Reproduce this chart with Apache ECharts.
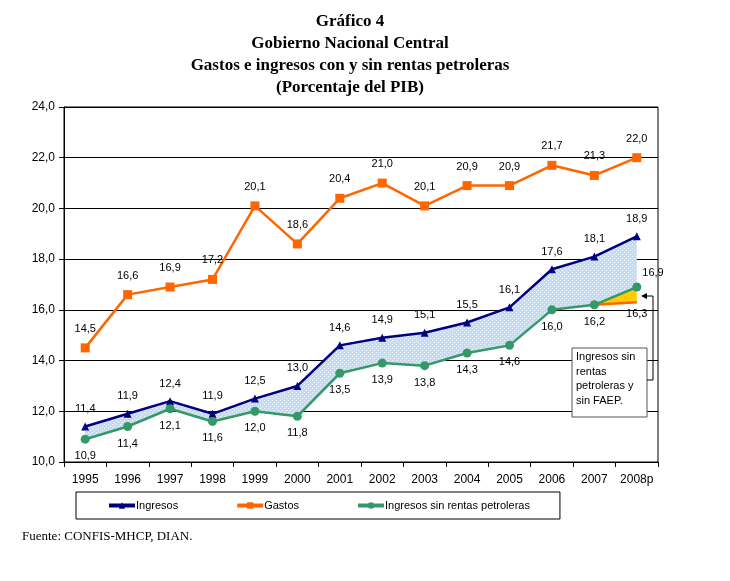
<!DOCTYPE html>
<html>
<head>
<meta charset="utf-8">
<script src="https://cdn.jsdelivr.net/npm/echarts@6/dist/echarts.min.js"></script>
<style>
  html, body { margin: 0; padding: 0; background: #fff; }
  #chart { width: 730px; height: 581px; }
</style>
</head>
<body>
<div id="chart"></div>
<script>
// datos (porcentaje del PIB)
var years = ['1995','1996','1997','1998','1999','2000','2001','2002','2003','2004','2005','2006','2007','2008p'];
var ingresos = [11.4, 11.9, 12.4, 11.9, 12.5, 13.0, 14.6, 14.9, 15.1, 15.5, 16.1, 17.6, 18.1, 18.9];
var gastos = [14.5, 16.6, 16.9, 17.2, 20.1, 18.6, 20.4, 21.0, 20.1, 20.9, 20.9, 21.7, 21.3, 22.0];
var sinRentas = [10.9, 11.4, 12.1, 11.6, 12.0, 11.8, 13.5, 13.9, 13.8, 14.3, 14.6, 16.0, 16.2, 16.9];
var sinFaep = [null, null, null, null, null, null, null, null, null, null, null, null, 16.2, 16.3];
var yTicks = [10, 24, 2]; // min, max, intervalo

var coma = function (v) { return Number(v).toFixed(1).replace('.', ','); };

// banda entre ingresos y sin rentas
var bandaDif = ingresos.map(function (v, i) { return +(v - sinRentas[i]).toFixed(2); });
var faepDif = sinFaep.map(function (v, i) { return v == null ? null : +(sinRentas[i] - v).toFixed(2); });

// patron punteado azul claro
var pat = document.createElement('canvas');
pat.width = 4; pat.height = 4;
var pc = pat.getContext('2d');
pc.fillStyle = '#c2dbf7';
pc.fillRect(0, 0, 4, 4);
pc.fillStyle = '#f2f7fd';
pc.fillRect(0, 0, 1, 1);
pc.fillRect(2, 2, 1, 1);

var fontSans = 'Liberation Sans';
var lbl = { show: true, fontFamily: fontSans, fontSize: 11, color: '#000', formatter: function (p) { return coma(p.value); } };

var dom = document.getElementById('chart');
var myChart = echarts.init(dom);

var option = {
    backgroundColor: '#fff',
    animation: false,
    title: {
        text: 'Gráfico 4\nGobierno Nacional Central\nGastos e ingresos con y sin rentas petroleras\n(Porcentaje del PIB)',
        left: 345,
        textAlign: 'center',
        top: 6,
        textStyle: { fontFamily: 'Liberation Serif', fontWeight: 'bold', fontSize: 17, lineHeight: 22, color: '#000' }
    },
    legend: {
        data: ['Ingresos', 'Gastos', 'Ingresos sin rentas petroleras'],
        left: 76,
        top: 492,
        padding: [8, 30, 8, 31],
        itemGap: 57,
        itemWidth: 26,
        itemHeight: 8,
        lineStyle: { width: 4 },
        borderColor: '#000',
        borderWidth: 1,
        textStyle: { fontFamily: fontSans, fontSize: 11, color: '#000', padding: [0, 0, 0, -4] }
    },
    grid: {
        left: 64, right: 72, top: 107, bottom: 119,
        show: true, borderColor: '#000', borderWidth: 1
    },
    xAxis: {
        type: 'category',
        data: years,
        boundaryGap: true,
        axisLine: { lineStyle: { color: '#000', width: 1 } },
        axisTick: { show: true, interval: 0, length: 5, lineStyle: { color: '#000' } },
        axisLabel: { interval: 0, fontFamily: fontSans, fontSize: 12, color: '#000', margin: 12 }
    },
    yAxis: {
        type: 'value',
        min: yTicks[0], max: yTicks[1], interval: yTicks[2],
        axisLine: { show: true, lineStyle: { color: '#000', width: 1 } },
        axisTick: { show: true, length: 5, lineStyle: { color: '#000' } },
        axisLabel: { fontFamily: fontSans, fontSize: 12, color: '#000', margin: 9, formatter: function (v) { return coma(v); } },
        splitLine: { lineStyle: { color: '#000', width: 1 } }
    },
    series: [
        {
            name: 'base', type: 'line', stack: 'banda', data: sinRentas,
            symbol: 'none', lineStyle: { width: 0, opacity: 0 }, silent: true, z: 1
        },
        {
            name: 'banda', type: 'line', stack: 'banda', data: bandaDif,
            symbol: 'none', lineStyle: { width: 0, opacity: 0 },
            areaStyle: { color: { image: pat, repeat: 'repeat' }, opacity: 1 }, silent: true, z: 1
        },
        {
            name: 'faepBase', type: 'line', stack: 'faep', data: sinFaep,
            symbol: 'none', lineStyle: { width: 0, opacity: 0 }, silent: true, z: 1
        },
        {
            name: 'faepBanda', type: 'line', stack: 'faep', data: faepDif,
            symbol: 'none', lineStyle: { width: 0, opacity: 0 },
            areaStyle: { color: '#ffcc00', opacity: 1 }, silent: true, z: 1
        },
        {
            name: 'Ingresos sin rentas petroleras y sin FAEP', type: 'line',
            data: sinFaep.map(function (v, i) {
                if (i === sinFaep.length - 1) {
                    return { value: v, label: Object.assign({}, lbl, { position: 'bottom', distance: 6, offset: [-6, 0] }) };
                }
                return v;
            }),
            symbol: 'circle', symbolSize: 1, showSymbol: true,
            itemStyle: { color: '#ff6600' },
            lineStyle: { color: '#ff6600', width: 2.5 }, z: 2,
            label: { show: false },
            labelLayout: { hideOverlap: false }
        },
        {
            name: 'Gastos', type: 'line', data: gastos,
            symbol: 'rect', symbolSize: 9,
            itemStyle: { color: '#ff6600' }, lineStyle: { color: '#ff6600', width: 2.5 },
            label: Object.assign({}, lbl, { position: 'top', distance: 9 }), z: 3
        },
        {
            name: 'Ingresos', type: 'line', data: ingresos,
            symbol: 'triangle', symbolSize: 8,
            itemStyle: { color: '#000080' }, lineStyle: { color: '#000080', width: 2.5 },
            label: Object.assign({}, lbl, { position: 'top', distance: 8 }), z: 4
        },
        {
            name: 'Ingresos sin rentas petroleras', type: 'line',
            data: sinRentas.map(function (v, i) {
                if (i === sinRentas.length - 1) {
                    return { value: v, label: { position: 'right', offset: [-6, -14] } };
                }
                return v;
            }),
            symbol: 'circle', symbolSize: 9,
            itemStyle: { color: '#339966' }, lineStyle: { color: '#339966', width: 2.5 },
            label: Object.assign({}, lbl, { position: 'bottom', distance: 7 }), z: 5
        }
    ],
    graphic: [
        {
            type: 'rect', z: 100,
            shape: { x: 572, y: 348, width: 75, height: 69 },
            style: { fill: '#fff', stroke: '#555', lineWidth: 1 }
        },
        {
            type: 'text', z: 101, left: 576, top: 350,
            style: { text: 'Ingresos sin\nrentas\npetroleras y\nsin FAEP.', fontFamily: fontSans, fontSize: 11, lineHeight: 14.5, fill: '#000' }
        },
        {
            type: 'polyline', z: 100,
            shape: { points: [[647, 380], [653, 380], [653, 296], [645, 296]] },
            style: { stroke: '#000', lineWidth: 1, fill: null }
        },
        {
            type: 'polygon', z: 100,
            shape: { points: [[641, 296], [647, 293], [647, 299]] },
            style: { fill: '#000' }
        },
        {
            type: 'text', left: 22, top: 530,
            style: { text: 'Fuente: CONFIS-MHCP, DIAN.', fontFamily: 'Liberation Serif', fontSize: 13, fill: '#000' }
        }
    ]
};

myChart.setOption(option);
</script>
</body>
</html>
